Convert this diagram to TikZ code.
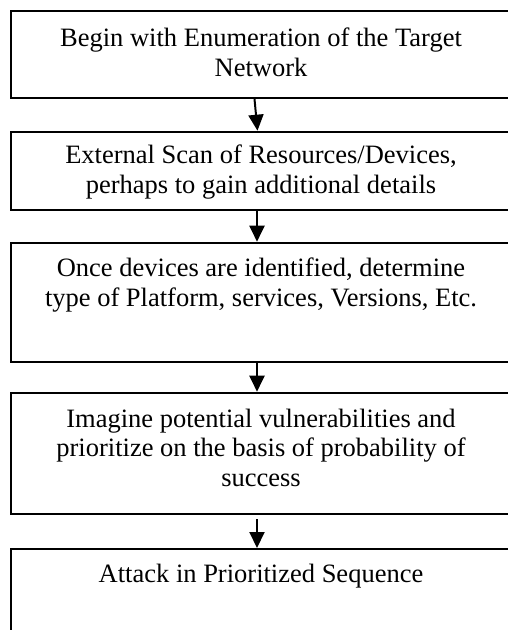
\documentclass[tikz,border=0pt]{standalone}
\usepackage{fontspec}
\setmainfont{Liberation Serif}
\usetikzlibrary{arrows.meta}
\begin{document}
\begin{tikzpicture}[x=1pt,y=-1pt,
  boxstyle/.style={draw=black,line width=2pt,minimum width=502pt,inner sep=0pt,anchor=north west},
  txt/.style={align=center,inner sep=0pt,anchor=base,font=\fontsize{26.5pt}{29.5pt}\selectfont},
  arr/.style={line width=2pt,-{Triangle[width=15pt,length=16pt]}}]
\useasboundingbox (0,0) rectangle (508,630);
\begin{scope}
\clip (0,0) rectangle (508,630);
\node[boxstyle,minimum height=87pt] (b1) at (10,10) {};
\node[boxstyle,minimum height=78.3pt] (b2) at (10,130.7) {};
\node[boxstyle,minimum height=119.3pt] (b3) at (10,241.7) {};
\node[boxstyle,minimum height=121.3pt] (b4) at (10,391.7) {};
\node[boxstyle,minimum height=112pt] (b5) at (10,548) {};
% anchor=base of a multi-line node is the baseline of its last line
\node[txt] (t1) at (261,76.2) {Begin with Enumeration of the Target\\Network};
\node[txt] (t2) at (261,193.3) {External Scan of Resources/Devices,\\perhaps to gain additional details};
\node[txt] (t3) at (261,306.0) {Once devices are identified, determine\\type of Platform, services, Versions, Etc.};
\node[txt] (t4) at (261,486.3) {Imagine potential vulnerabilities and\\prioritize on the basis of probability of\\success};
\node[txt] (t5) at (261,582.7) {Attack in Prioritized Sequence};
\draw[arr] ([xshift=-7.5pt]b1.south) -- ([xshift=-4.5pt]b2.north);
\draw[arr] ([xshift=-5pt]b2.south) -- ([xshift=-5pt]b3.north);
\draw[arr] ([xshift=-5pt]b3.south) -- ([xshift=-5pt]b4.north);
\draw[arr] ([xshift=-5pt,yshift=-4pt]b4.south) -- ([xshift=-5pt]b5.north);
\end{scope}
\end{tikzpicture}
\end{document}
